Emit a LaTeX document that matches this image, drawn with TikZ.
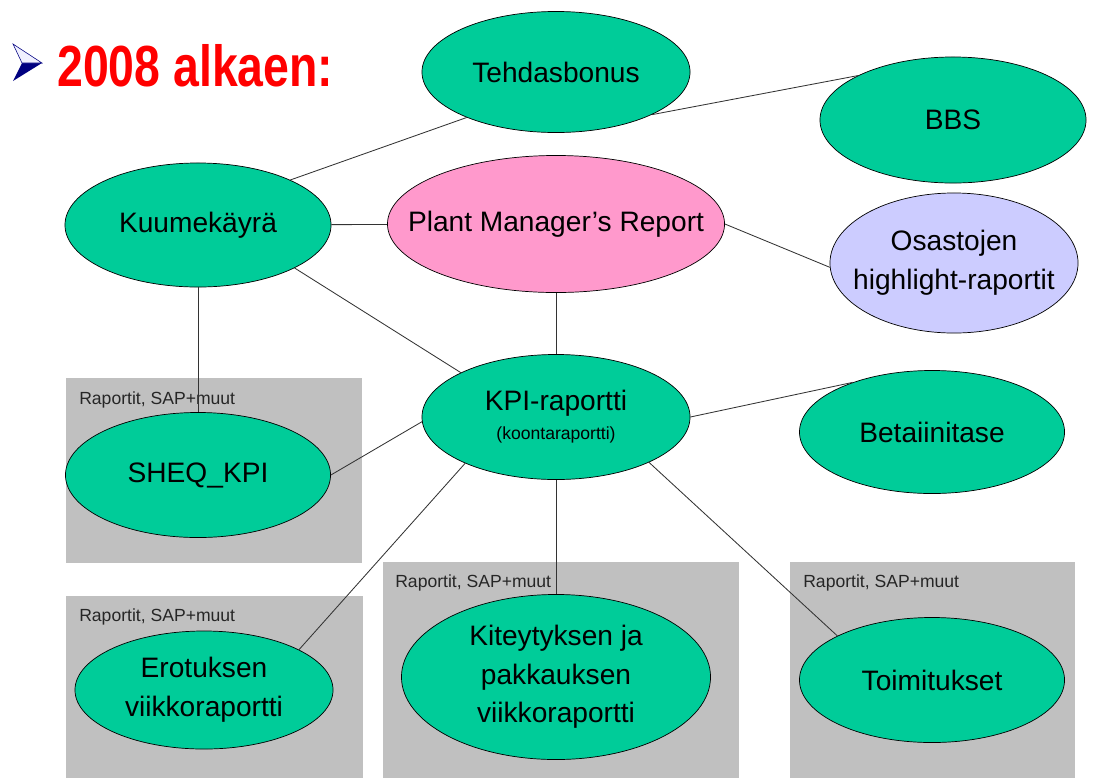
\documentclass[tikz,border=0pt]{standalone}
\usepackage{fontspec}
\setmainfont{Liberation Sans}
\usetikzlibrary{shapes.geometric}
\definecolor{kpigreen}{HTML}{00CC99}
\definecolor{pmpink}{HTML}{FF99CC}
\definecolor{lilac}{HTML}{CCCCFF}
\definecolor{boxgray}{HTML}{C0C0C0}
\definecolor{navyblue}{HTML}{000080}
\begin{document}
\begin{tikzpicture}[
    x=0.025cm, y=-0.025cm,
    oval/.style={ellipse, draw=black, line width=0.5pt, fill=kpigreen, inner sep=-2cm,
                 font=\fontsize{20}{27.5}\selectfont, align=center},
    link/.style={draw=black!80, line width=0.6pt},
    note/.style={font=\fontsize{12.5}{14}\selectfont, anchor=west, inner sep=0pt, text=black!85},
    panel/.style={fill=boxgray},
    heading/.style={font=\fontsize{33}{40}\selectfont\bfseries, text=red, anchor=west, inner sep=0pt}
]
\useasboundingbox (0,0) rectangle (1096,778);

% title
\fill[navyblue] (22,63) -- (42,63) -- (13,81) -- cycle;
\draw[navyblue, fill=blue!6, line join=miter] (13,44) -- (42,63) -- (22,63) -- cycle;
\node[heading] (title) at (57,66) {\scalebox{1}[1.25]{2008 alkaen:}};

% report panels
\fill[panel] (66,378) rectangle (362,563);
\fill[panel] (66,596) rectangle (363,778);
\fill[panel] (383,562) rectangle (739,778);
\fill[panel] (790,562) rectangle (1075,778);
\node[note] (sheqnote) at (79,400) {Raportit, SAP+muut};
\node[note] (erotnote) at (79,617) {Raportit, SAP+muut};
\node[note] (kitenote) at (395,583) {Raportit, SAP+muut};
\node[note] (toimnote) at (803,583) {Raportit, SAP+muut};

% reports
\node[oval, minimum width=6.7cm,   minimum height=3.025cm] (tehdas) at (556,72)  {Tehdasbonus};
\node[oval, minimum width=6.65cm,  minimum height=3.15cm]  (bbs)    at (953,120) {BBS};
\node[oval, minimum width=6.65cm,  minimum height=3.1cm]   (kuume)  at (198,225) {Kuumekäyrä};
\node[oval, minimum width=8.425cm, minimum height=3.425cm, fill=pmpink] (pmr) at (556,224) {Plant Manager’s Report};
\node[oval, minimum width=6.2cm,   minimum height=3.5cm,   fill=lilac]  (osasto) at (954,263) {Osastojen\\highlight-raportit};
\node[oval, minimum width=6.7cm,   minimum height=3.125cm] (kpi)    at (556,417) {KPI-raportti\\[-7pt]{\fontsize{12.5}{14}\selectfont (koontaraportti)}};
\node[oval, minimum width=6.625cm, minimum height=3.075cm] (beta)   at (932,432) {Betaiinitase};
\node[oval, minimum width=6.625cm, minimum height=3.125cm] (sheq)   at (198,475) {SHEQ\_KPI};
\node[oval, minimum width=6.45cm,  minimum height=2.95cm]  (erot)   at (204,690) {Erotuksen\\viikkoraportti};
\node[oval, minimum width=7.725cm, minimum height=4.125cm] (kite)   at (556,677) {Kiteytyksen ja\\pakkauksen\\viikkoraportti};
\node[oval, minimum width=6.625cm, minimum height=3.125cm] (toim)   at (932,680) {Toimitukset};

% connections
\draw[link] (kuume.26)  -- (tehdas.207);
\draw[link] (tehdas.-24) -- (bbs.155);
\draw[link] (kuume) -- (pmr);
\draw[link] (pmr.0) -- (osasto.182);
\draw[link] (kuume.-24) -- (kpi.155);
\draw[link] (kuume) -- (sheq);
\draw[link] (pmr) -- (kpi);
\draw[link] (kpi.0) -- (beta.148);
\draw[link] (sheq.0) -- (kpi.182);
\draw[link] (kpi.207) -- (erot.23);
\draw[link] (kpi) -- (kite);
\draw[link] (kpi.-26) -- (toim.155);

\end{tikzpicture}
\end{document}
